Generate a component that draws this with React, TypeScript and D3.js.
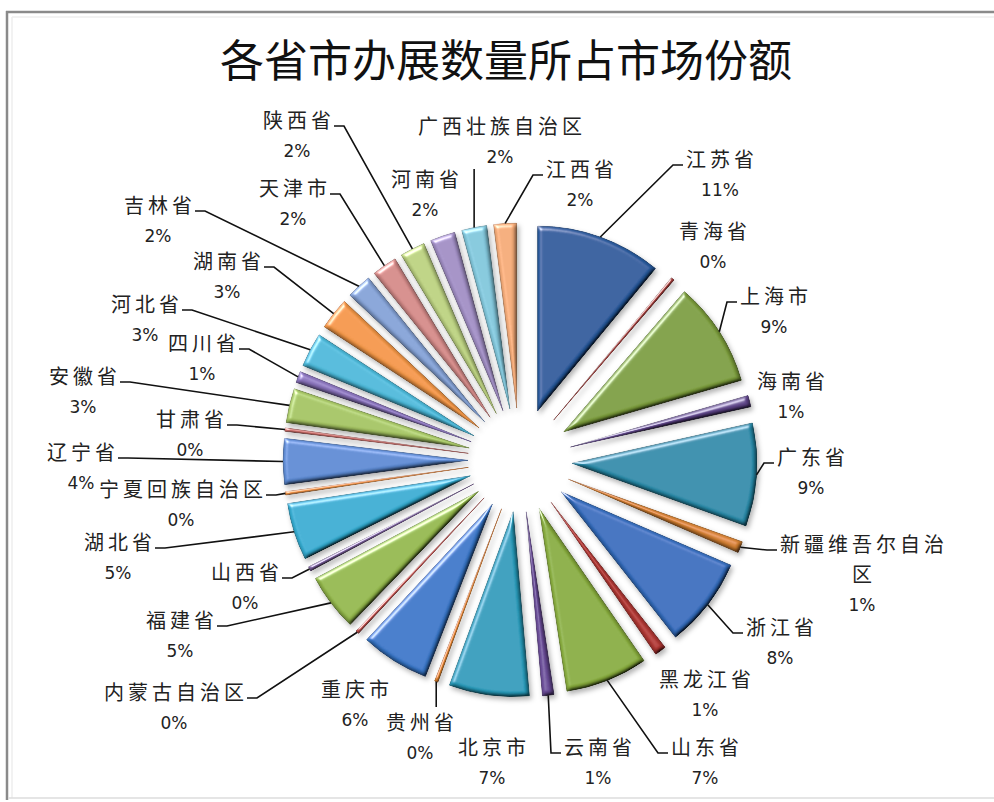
import React from 'react';
import * as d3 from 'd3';

const title = '各省市办展数量所占市场份额';
const provinces = ['江苏省','青海省','上海市','海南省','广东省','新疆维吾尔自治区','浙江省','黑龙江省','山东省','云南省','北京市','贵州省','重庆市','内蒙古自治区','福建省','山西省','湖北省','宁夏回族自治区','辽宁省','甘肃省','安徽省','四川省','河北省','湖南省','吉林省','天津市','陕西省','河南省','广西壮族自治区','江西省'];
const shares = [11.0,0.3,9.2,1.0,9.0,1.0,7.9,1.0,7.2,1.0,7.0,0.3,6.0,0.3,5.0,0.4,5.0,0.3,4.0,0.3,3.0,1.0,3.0,2.8,2.2,2.2,2.2,2.2,2.2,2.0];
const colors = [
  '#285CA0','#A63E3B','#80A23E','#654A91','#2A8FAE','#DB8534',
  '#3670C2','#B93B37','#8CB13F','#6E4F9D','#2AA0C0','#E8882E',
  '#3A7ACD','#C0504D','#98BD4E','#7E62A0','#36B1D7','#F79646',
  '#5F8ED8','#D2716D','#A9C965','#8D76C0','#4DBDDE','#F89A48',
  '#88A6DB','#D98E8C','#C0D684','#A592C9','#85CBE0','#F8AE7A'
];
// label layout: centre of first text line (annotation placement)
const labelPos: [number, number][] = [
  [720,160],[713,232],[774,297],[791,382],[811,458],[862,545],[780,628],[705,680],[705,748],[598,748],
  [492,748],[420,723],[355,690],[174,693],[180,621],[245,573],[118,543],[181,490],[81,453],[190,420],
  [83,377],[202,344],[145,305],[227,262],[158,206],[293,189],[297,121],[425,180],[500,127],[580,170]
];
const showLeader = [1,0,1,0,1,1,1,0,1,1, 0,1,0,1,1,1,1,1,1,1, 1,1,1,1,1,1,1,0,1,1];

const W = 994, H = 802;
const cx = 520, cy = 460, R = 185, EXPLODE = 52;
const LINE = 30;

export default function App() {
  const pie = d3.pie<number>().sort(null).value(d => d).startAngle(0).endAngle(2 * Math.PI);
  const arcs = pie(shares);
  const total = d3.sum(shares);
  const arcGen = d3.arc<d3.PieArcDatum<number>>().innerRadius(0).outerRadius(R);

  const slices = arcs.map((a, i) => {
    const mid = (a.startAngle + a.endAngle) / 2;
    const dx = EXPLODE * Math.sin(mid), dy = -EXPLODE * Math.cos(mid);
    const px = cx + (EXPLODE + R) * Math.sin(mid), py = cy - (EXPLODE + R) * Math.cos(mid);
    return { a, i, mid, dx, dy, px, py };
  });

  const labels = slices.map(s => {
    const name = provinces[s.i];
    const lines: string[] = [];
    for (let k = 0; k < name.length; k += 7) lines.push(name.slice(k, k + 7));
    const pct = d3.format('.0%')(shares[s.i] / total);
    const [lx, ly] = labelPos[s.i];
    const nameW = d3.max(lines, l => l.length * 24 - 4) as number;
    const half = Math.max(nameW, pct.length * 12) / 2;
    let path = '';
    if (showLeader[s.i]) {
      const ey = ly + 5;
      if (s.px < lx - half) {
        const ex = lx - half - 3;
        path = `M${s.px},${s.py}L${ex - 10},${ey}L${ex},${ey}`;
      } else if (s.px > lx + half) {
        const ex = lx + half + 3;
        path = `M${s.px},${s.py}L${ex + 10},${ey}L${ex},${ey}`;
      } else if (ly > s.py) {
        path = `M${s.px},${s.py}L${s.px},${ly - 16}`;
      } else {
        const by = ly + LINE * lines.length + 12;
        path = `M${s.px},${s.py}L${s.px},${by}`;
      }
    }
    return { lines, pct, lx, ly, path, i: s.i };
  });

  return (
    <svg width={W} height={H} style={{ position: 'absolute', left: 0, top: 0, background: '#fff' }}>
      <defs>
        <filter id="bevel" filterUnits="userSpaceOnUse" x={-260} y={-260} width={520} height={520}>
          <feGaussianBlur in="SourceAlpha" stdDeviation="2" result="blur" />
          <feSpecularLighting in="blur" surfaceScale="4" specularConstant="0.7" specularExponent="20" lightingColor="#ffffff" result="spec">
            <feDistantLight azimuth="235" elevation="28" />
          </feSpecularLighting>
          <feComposite in="spec" in2="SourceAlpha" operator="in" result="specIn" />
          <feDiffuseLighting in="blur" surfaceScale="4" diffuseConstant="1" lightingColor="#ffffff" result="diff">
            <feDistantLight azimuth="235" elevation="55" />
          </feDiffuseLighting>
          <feComposite in="SourceGraphic" in2="diff" operator="arithmetic" k1="1.15" k2="0" k3="0" k4="0" result="shaded" />
          <feComposite in="shaded" in2="specIn" operator="arithmetic" k1="0" k2="1" k3="1" k4="0" result="lit0" />
          <feComposite in="lit0" in2="SourceAlpha" operator="in" result="lit" />
          <feGaussianBlur in="SourceAlpha" stdDeviation="2.5" result="sblur" />
          <feOffset in="sblur" dx="1.5" dy="2.5" result="soff" />
          <feFlood floodColor="#000" floodOpacity="0.3" />
          <feComposite in2="soff" operator="in" result="shadow" />
          <feMerge>
            <feMergeNode in="shadow" />
            <feMergeNode in="lit" />
          </feMerge>
        </filter>
      </defs>
      <rect x={0} y={0} width={W} height={H} fill="#fff" />
      <line x1={6} y1={12} x2={W} y2={12} stroke="#8a8a8a" strokeWidth={2.5} />
      <line x1={7} y1={11} x2={7} y2={800} stroke="#8a8a8a" strokeWidth={2.5} />
      <line x1={12} y1={17} x2={W} y2={17} stroke="#eeeeee" strokeWidth={1.5} />
      <line x1={12} y1={17} x2={12} y2={798} stroke="#eeeeee" strokeWidth={1.5} />
      <line x1={8} y1={798} x2={W} y2={798} stroke="#dddddd" strokeWidth={1.5} />

      <text x={506} y={77} textAnchor="middle" fontFamily="'Noto Sans CJK SC', sans-serif" fontSize={44} fill="#111">{title}</text>

      <g>
        {slices.map(s => (
          <path key={s.i} d={arcGen(s.a) as string} transform={`translate(${cx + s.dx},${cy + s.dy})`}
            fill={colors[s.i]} stroke={d3.color(colors[s.i])!.darker(0.8).toString()} strokeWidth={0.8}
            strokeLinejoin="round" filter="url(#bevel)" />
        ))}
      </g>

      <g fill="none" stroke="#111" strokeWidth={1.6}>
        {labels.map(l => l.path ? <path key={l.i} d={l.path} /> : null)}
      </g>

      <g fill="#222" textAnchor="middle">
        {labels.map(l => (
          <g key={l.i}>
            {l.lines.map((t, k) => (
              <text key={k} x={l.lx + 2} y={l.ly + k * LINE + 7} fontFamily="'Noto Sans CJK SC', sans-serif" fontSize={20} letterSpacing={4}>{t}</text>
            ))}
            <text x={l.lx} y={l.ly + l.lines.length * LINE + 6} fontFamily="'DejaVu Sans', sans-serif" fontSize={17}>{l.pct}</text>
          </g>
        ))}
      </g>
    </svg>
  );
}
